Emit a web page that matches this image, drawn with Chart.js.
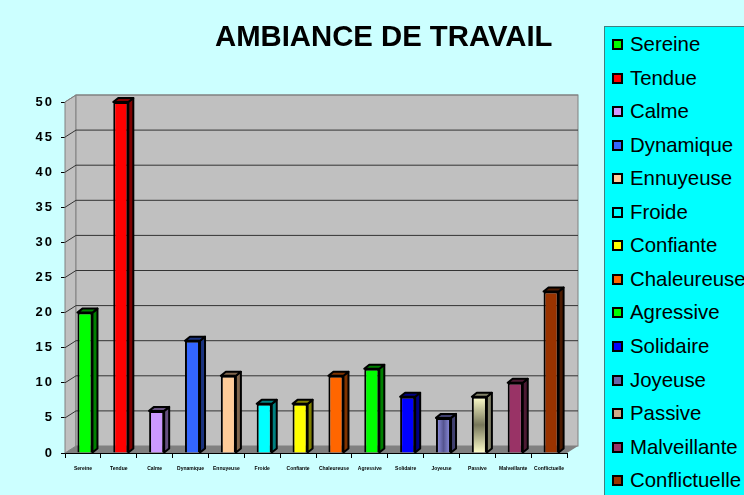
<!DOCTYPE html>
<html>
<head>
<meta charset="utf-8">
<title>Ambiance de travail</title>
<script src="https://cdn.jsdelivr.net/npm/chart.js@4"></script>
<style>
    html, body { margin: 0; padding: 0; background: #ccffff; overflow: hidden; }
    #wrap { position: relative; width: 744px; height: 495px; overflow: hidden; font-family: "Liberation Sans", Arial, sans-serif; }
    canvas { position: absolute; left: 0; top: 0; }
    #title { position: absolute; left: 215px; top: 19px; font-size: 29.3px; font-weight: bold; line-height: 34px; white-space: nowrap; color: #000; }
    #legend { position: absolute; left: 604px; top: 26px; width: 160px; height: 480px; box-sizing: border-box; background: #00ffff; border: 1px solid #3f8080; }
    .row { position: absolute; left: 7px; height: 24px; line-height: 24px; font-size: 20.4px; white-space: nowrap; color: #000; }
    .swatch { position: absolute; left: 0; top: 7px; width: 7px; height: 7px; border: 2px solid #000; }
    .row span { margin-left: 18px; }
</style>
</head>
<body>
<div id="wrap">
    <canvas id="chart" width="744" height="495"></canvas>
    <div id="title">AMBIANCE DE TRAVAIL</div>
    <div id="legend"></div>
</div>
<script>
const categories = ['Sereine', 'Tendue', 'Calme', 'Dynamique', 'Ennuyeuse', 'Froide', 'Confiante', 'Chaleureuse', 'Agressive', 'Solidaire', 'Joyeuse', 'Passive', 'Malveillante', 'Conflictuelle'];
const values = [20, 50, 6, 16, 11, 7, 7, 11, 12, 8, 5, 8, 10, 23];
const barColors = ['#00ff00', '#ff0000', '#cc99ff', '#3366ff', '#ffcc99', '#00ffff', '#ffff00', '#ff6600', '#00ff00', '#0000ff', '#8080e0', '#ffffcc', '#993366', '#993300'];
const sideColors = ['#008000', '#800000', '#66507f', '#1a3380', '#80664d', '#008080', '#808000', '#803300', '#008000', '#000080', '#404070', '#808066', '#4d1a33', '#4d1a00'];
const legendColors = ['#00ff00', '#ff0000', '#cc99ff', '#3366ff', '#ffcc99', '#00ffff', '#ffff00', '#ff6600', '#00ff00', '#0000ff', '#6666aa', '#ccaa88', '#993366', '#993300'];

// box depth of the 3D look
const depthX = 11, depthY = 7;
const barDepthX = 5, barDepthY = 4, barShift = 2;

const wallsPlugin = {
    id: 'walls',
    beforeDraw(chart) {
        // the y labels are spaced out in the reference
        const y = chart.scales.y;
        if (y.spacedLabels) return;
        y.spacedLabels = true;
        const drawLabels = y.drawLabels;
        y.drawLabels = function (area) {
            const c = this.ctx;
            c.save();
            c.letterSpacing = '2px';
            drawLabels.call(this, area);
            c.restore();
        };
    },
    beforeDatasetsDraw(chart) {
        const c = chart.ctx, a = chart.chartArea, y = chart.scales.y;
        c.save();
        c.lineWidth = 1;
        c.strokeStyle = '#808080';
        // left wall
        c.fillStyle = '#c0c0c0';
        c.beginPath();
        c.moveTo(a.left, a.top); c.lineTo(a.left + depthX, a.top - depthY);
        c.lineTo(a.left + depthX, a.bottom - depthY); c.lineTo(a.left, a.bottom);
        c.closePath(); c.fill(); c.stroke();
        // back wall
        c.fillRect(a.left + depthX, a.top - depthY, a.width, a.height);
        c.strokeRect(a.left + depthX, a.top - depthY, a.width, a.height);
        // floor
        c.fillStyle = '#808080';
        c.beginPath();
        c.moveTo(a.left, a.bottom); c.lineTo(a.left + depthX, a.bottom - depthY);
        c.lineTo(a.right + depthX, a.bottom - depthY); c.lineTo(a.right, a.bottom);
        c.closePath(); c.fill();
        // grid
        y.ticks.forEach(t => {
            if (t.value === 0) return;
            const py = y.getPixelForValue(t.value);
            c.beginPath();
            c.moveTo(a.left, py);
            c.lineTo(a.left + depthX, py - depthY);
            c.lineTo(a.right + depthX, py - depthY);
            c.strokeStyle = t.value === 50 ? '#808080' : '#333333';
            c.stroke();
        });
        c.restore();
    },
    beforeDatasetDraw(chart, args) {
        const c = chart.ctx;
        c.save();
        c.translate(barShift, 0);
        chart.getDatasetMeta(args.index).data.forEach((bar, i) => {
            const half = bar.width / 2;
            const l = bar.x - half, r = bar.x + half, t = bar.y, b = bar.base;
            c.lineWidth = 2;
            c.strokeStyle = '#000';
            c.lineJoin = 'round';
            // side face
            c.fillStyle = sideColors[i];
            c.beginPath();
            c.moveTo(r, t); c.lineTo(r + barDepthX, t - barDepthY);
            c.lineTo(r + barDepthX, b - barDepthY); c.lineTo(r, b);
            c.closePath(); c.fill(); c.stroke();
            // top face
            c.beginPath();
            c.moveTo(l, t); c.lineTo(l + barDepthX, t - barDepthY);
            c.lineTo(r + barDepthX, t - barDepthY); c.lineTo(r, t);
            c.closePath(); c.fill(); c.stroke();
        });
    },
    afterDatasetDraw(chart) {
        chart.ctx.restore();
    }
};

function barFill(context) {
    const chart = context.chart, i = context.dataIndex;
    if (categories[i] === 'Joyeuse' && chart.scales.x) {
        const cx = chart.scales.x.getPixelForValue(i);
        const g = chart.ctx.createLinearGradient(cx - 8, 0, cx + 8, 0);
        g.addColorStop(0, '#9999ee');
        g.addColorStop(0.5, '#555590');
        g.addColorStop(1, '#9999ee');
        return g;
    }
    if (categories[i] === 'Passive' && chart.scales.y) {
        const top = chart.scales.y.getPixelForValue(values[i]);
        const base = chart.scales.y.getPixelForValue(0);
        const g = chart.ctx.createLinearGradient(0, top, 0, base);
        g.addColorStop(0, '#ffffcc');
        g.addColorStop(0.5, '#77775a');
        g.addColorStop(1, '#ffffcc');
        return g;
    }
    return barColors[i];
}

new Chart(document.getElementById('chart').getContext('2d'), {
    type: 'bar',
    data: {
        labels: categories,
        datasets: [{
            data: values,
            backgroundColor: barFill,
            borderColor: '#000000',
            borderWidth: 2,
            barPercentage: 0.42,
            categoryPercentage: 1
        }]
    },
    options: {
        responsive: false,
        animation: false,
        layout: { padding: { left: 0, right: 177, top: 102, bottom: 0 } },
        plugins: { legend: { display: false }, tooltip: { enabled: false } },
        scales: {
            x: {
                afterFit: s => { s.height = 42; },
                grid: { drawOnChartArea: false, drawTicks: true, tickLength: 5, color: '#000000', offset: true },
                border: { color: '#000000', width: 1 },
                ticks: { maxRotation: 0, minRotation: 0, autoSkip: false, padding: 8, color: '#000', font: { family: '"Liberation Sans"', size: 5, weight: 'bold' } }
            },
            y: {
                min: 0,
                max: 50,
                afterFit: s => { s.width = 65; },
                grid: { drawOnChartArea: false, drawTicks: true, tickLength: 4, color: '#000000' },
                border: { color: '#000000', width: 1 },
                ticks: { stepSize: 5, padding: 7, color: '#000', font: { family: '"Liberation Sans"', size: 13, weight: 'bold' } }
            }
        }
    },
    plugins: [wallsPlugin]
});

const legend = document.getElementById('legend');
categories.forEach((name, i) => {
    const row = document.createElement('div');
    row.className = 'row';
    row.style.top = (5 + i * 33.55) + 'px';
    const swatch = document.createElement('div');
    swatch.className = 'swatch';
    swatch.style.background = legendColors[i];
    const label = document.createElement('span');
    label.textContent = name;
    row.appendChild(swatch);
    row.appendChild(label);
    legend.appendChild(row);
});
</script>
</body>
</html>
